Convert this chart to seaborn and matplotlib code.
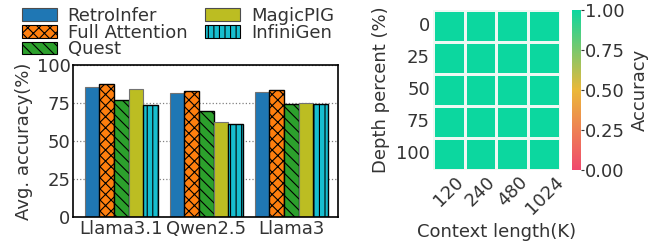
import numpy as np
import pandas as pd
import matplotlib
matplotlib.use("Agg")
import matplotlib.pyplot as plt
import seaborn as sns
from matplotlib.colors import LinearSegmentedColormap

# data
models = ["Llama3.1", "Qwen2.5", "Llama3"]
methods = ["RetroInfer", "Full Attention", "Quest", "MagicPIG", "InfiniGen"]
retroinfer = [85.7, 81.4, 82.5]
full_attention = [87.3, 82.9, 83.5]
quest = [76.8, 69.9, 74.3]
magicpig = [84.0, 62.3, 75.0]
infinigen = [73.5, 61.4, 74.3]

context_lengths = ["120", "240", "480", "1024"]
depth_percents = ["0", "25", "50", "75", "100"]
heat_values = [
    [1.0, 1.0, 1.0, 1.0],
    [1.0, 1.0, 1.0, 1.0],
    [1.0, 1.0, 1.0, 1.0],
    [1.0, 1.0, 1.0, 1.0],
    [1.0, 1.0, 1.0, 1.0],
]

colors = ["#1f77b4", "#ff7f0e", "#2ca02c", "#bcbd22", "#17becf"]
hatches = ["", "xxx", "\\\\\\", "", "|||"]
FS = 13

sns.set_style("ticks")
plt.rcParams["font.family"] = ["DejaVu Sans"]
plt.rcParams["font.size"] = FS
plt.rcParams["hatch.linewidth"] = 0.8

rows = []
for vals, name in zip([retroinfer, full_attention, quest, magicpig, infinigen], methods):
    for m, v in zip(models, vals):
        rows.append({"model": m, "method": name, "acc": v})
df = pd.DataFrame(rows)

fig = plt.figure(figsize=(6.57, 2.44), dpi=100)
ax = fig.add_axes([0.1116, 0.1107, 0.403, 0.623])

sns.barplot(data=df, x="model", y="acc", hue="method", hue_order=methods,
            palette=colors, width=0.86, ax=ax, legend=False, saturation=1)
for cont, h in zip(ax.containers, hatches):
    for bar in cont:
        bar.set_hatch(h)
        if h:
            bar.set_edgecolor("black")
            bar.set_linewidth(1.0)
        else:
            bar.set_edgecolor("0.45")
            bar.set_linewidth(0.8)

ax.set_xlim(-0.565, 2.55)
ax.set_ylim(0, 100)
ax.set_yticks([0, 25, 50, 75, 100])
ax.yaxis.grid(True, linestyle=":", color="gray", linewidth=0.9)
ax.set_axisbelow(True)
ax.set_xlabel("")
ax.set_ylabel("Avg. accuracy(%)", fontsize=FS, color="0.2", labelpad=3)
ax.tick_params(axis="both", length=0, labelsize=FS, colors="0.2", pad=2)
for sp in ax.spines.values():
    sp.set_color("black")
    sp.set_linewidth(1.2)

handles = [plt.Rectangle((0, 0), 1, 1, facecolor=c, hatch=h,
                         edgecolor="black" if h else "0.3", linewidth=0.8)
           for c, h in zip(colors, hatches)]
fig.legend(handles, methods, ncol=2, frameon=False, fontsize=FS,
           loc="upper left", bbox_to_anchor=(0.008, 1.037),
           handlelength=1.95, handleheight=0.72, labelspacing=-0.08,
           columnspacing=1.0, handletextpad=0.6, labelcolor="0.2")

# heatmap
cmap = LinearSegmentedColormap.from_list("custom_cmap", ["#F0496E", "#EBB839", "#0CD79F"])
hm = pd.DataFrame(heat_values, index=depth_percents, columns=context_lengths)
hax = fig.add_axes([0.6586, 0.303, 0.1938, 0.656])
cax = fig.add_axes([0.8706, 0.303, 0.0137, 0.656])
sns.heatmap(hm, cmap=cmap, vmin=0, vmax=1, linewidths=0.8, linecolor="#eef8f3",
            ax=hax, cbar_ax=cax, cbar_kws={"label": "Accuracy"})
hax.set_xlabel("Context length(K)", fontsize=FS, color="0.2")
hax.set_ylabel("Depth percent (%)", fontsize=FS, color="0.2")
hax.set_xticklabels(context_lengths, rotation=45, fontsize=FS, color="0.2")
hax.set_yticklabels(depth_percents, rotation=0, fontsize=FS, color="0.2")
hax.tick_params(length=0, pad=2)
cbar = hax.collections[0].colorbar
cbar.set_ticks([0, 0.25, 0.5, 0.75, 1.0])
cbar.set_ticklabels(["0.00", "0.25", "0.50", "0.75", "1.00"])
cbar.outline.set_visible(False)
cax.tick_params(length=2, labelsize=FS, colors="0.2", pad=1)
cax.yaxis.label.set_size(FS)
cax.yaxis.label.set_color("0.2")

fig.savefig("out.png", dpi=100)
